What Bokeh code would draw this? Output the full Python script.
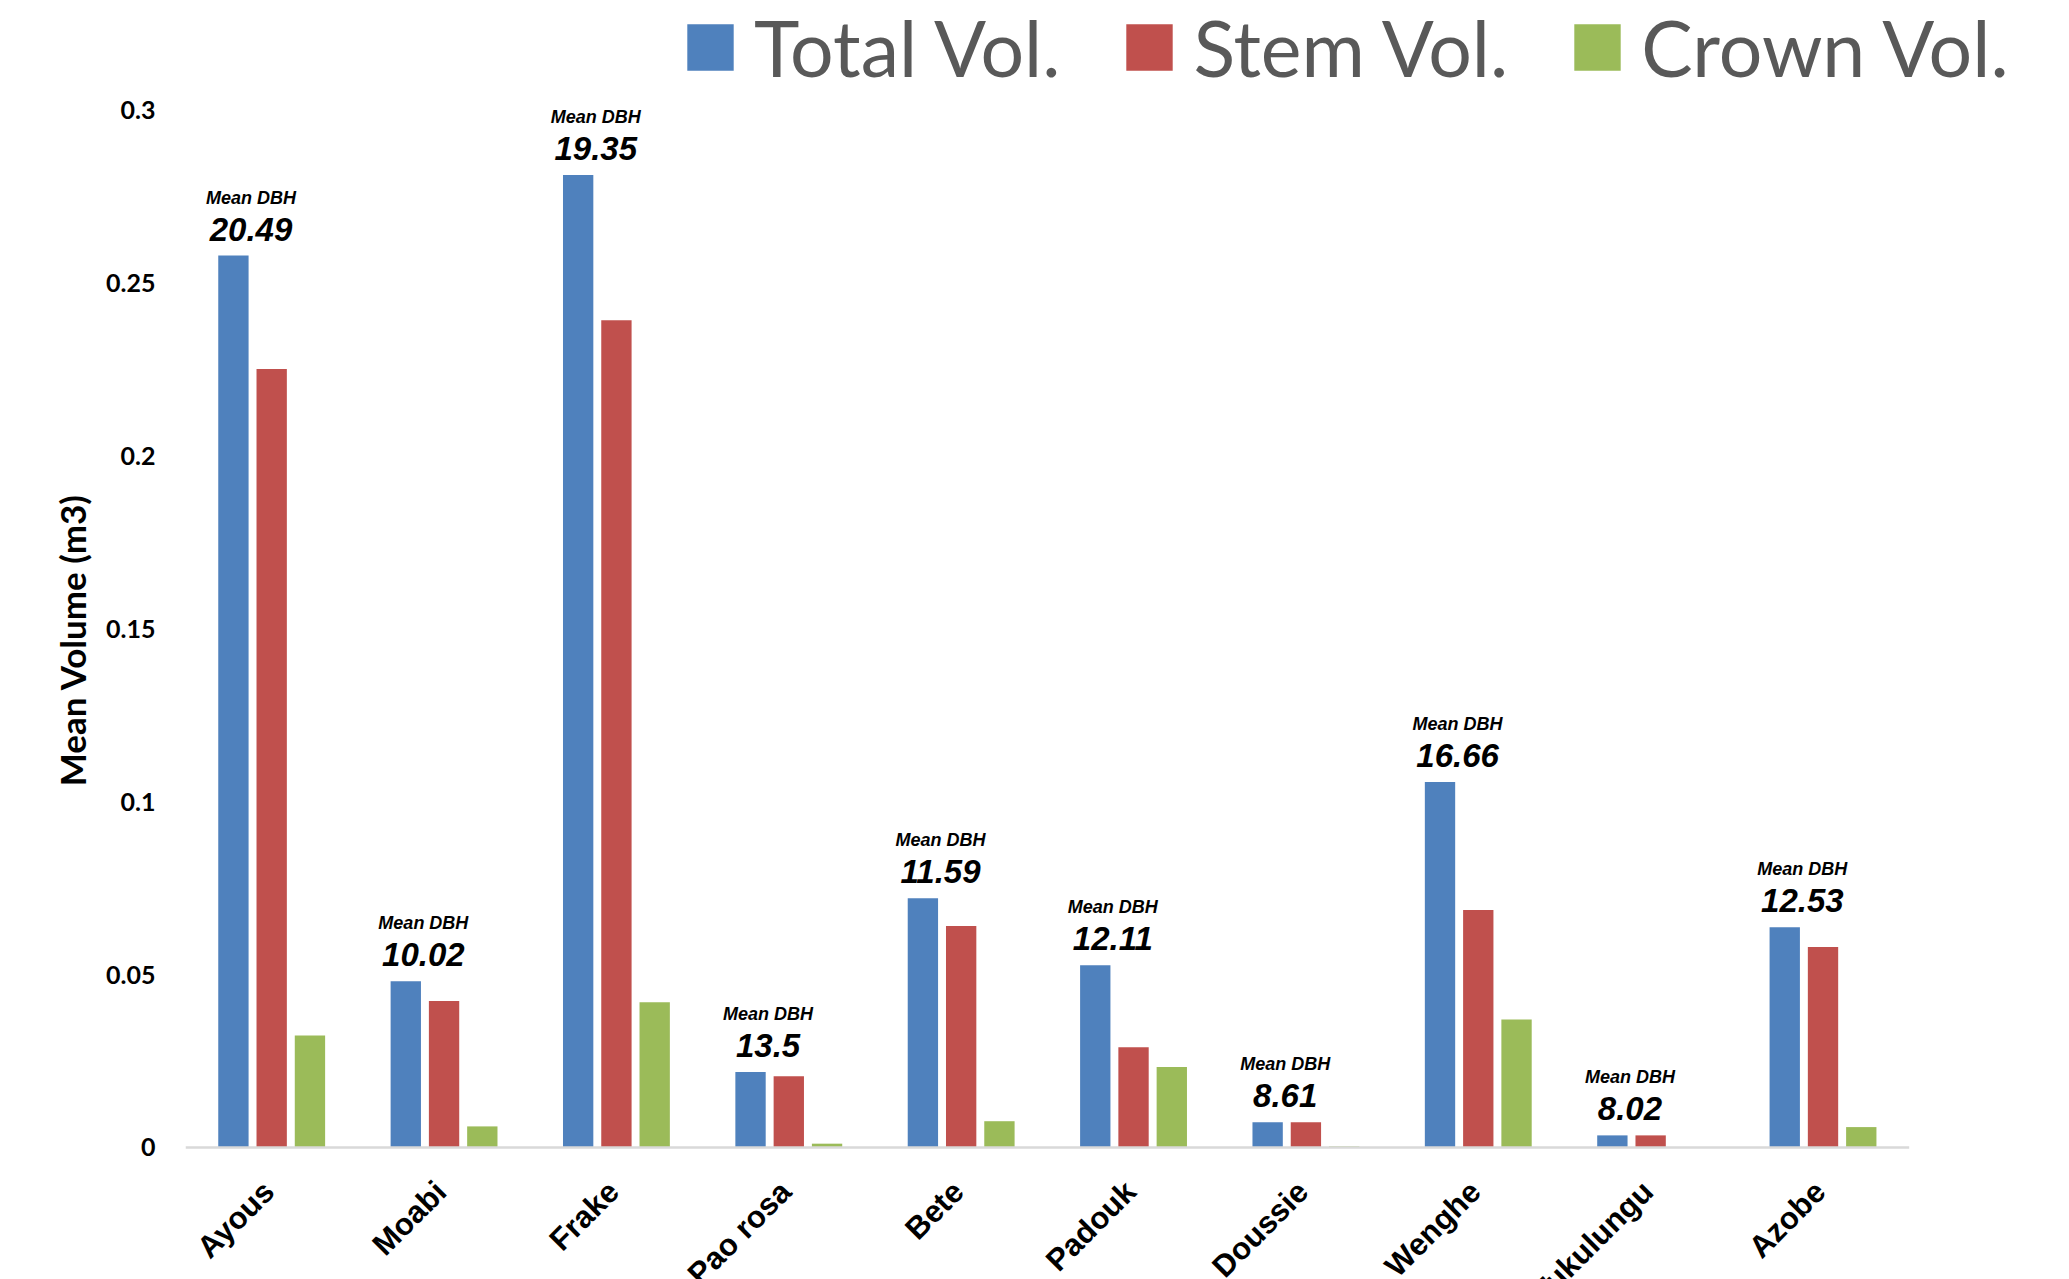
import math
from bokeh.plotting import figure
from bokeh.models import (ColumnDataSource, Range1d, LabelSet, Legend,
                          LegendItem, FixedTicker, NumeralTickFormatter)
from bokeh.core.properties import value
from bokeh.transform import dodge
from bokeh.embed import file_html
from bokeh.resources import INLINE

# ---- data ----
species = ["Ayous", "Moabi", "Frake", "Pao rosa", "Bete", "Padouk",
           "Doussie", "Wenghe", "Tukulungu", "Azobe"]
total_vol = [0.2580, 0.0481, 0.2813, 0.0218, 0.0721, 0.0527, 0.0073, 0.1057, 0.0035, 0.0637]
stem_vol = [0.2252, 0.0424, 0.2393, 0.0206, 0.0641, 0.0290, 0.0073, 0.0687, 0.0035, 0.0580]
crown_vol = [0.0324, 0.0061, 0.0420, 0.0011, 0.0076, 0.0233, 0.0003, 0.0370, 0.0, 0.0059]
mean_dbh = ["20.49", "10.02", "19.35", "13.5", "11.59", "12.11", "8.61", "16.66", "8.02", "12.53"]
series_names = ["Total Vol.", "Stem Vol.", "Crown Vol."]
y_ticks = [0, 0.05, 0.1, 0.15, 0.2, 0.25, 0.3]
y_title = "Mean Volume (m3)"
dbh_caption = "Mean DBH"

colors = ["#4F81BD", "#C0504D", "#9BBB59"]
n = len(species)
idx = list(range(n))

src = ColumnDataSource(dict(
    idx=idx, species=species, total=total_vol, stem=stem_vol, crown=crown_vol,
    dbh=mean_dbh, caption=[dbh_caption] * n, zero=[0.0] * n,
))

# the plotting area reaches the canvas edges at the top, right and bottom so the
# legend and the rotated category names (cut by the bottom edge) are not clipped
y_max = max(y_ticks)
p = figure(x_range=Range1d(-0.5, n - 0.5 + 0.93),
           y_range=Range1d(-0.1273 * y_max, 1.106 * y_max),
           width=2069, height=1279, output_backend="svg", toolbar_location=None,
           min_border=0, min_border_left=185)

p.outline_line_color = None
p.xgrid.visible = False
p.ygrid.visible = False
p.xaxis.visible = False

offsets = [-0.222, 0.0, 0.222]
fields = ["total", "stem", "crown"]
renderers = []
for f, off, c in zip(fields, offsets, colors):
    r = p.vbar(x=dodge("idx", off), top=f, width=0.176,
               source=src, fill_color=c, line_color=None)
    renderers.append(r)

# category baseline
p.segment(x0=[-0.5], x1=[n - 0.5], y0=[0], y1=[0], line_color="#D9D9D9", line_width=2.5)

# category names, rotated 45 degrees
xl = LabelSet(x="idx", y="zero", text="species", source=src,
              angle=math.pi / 4, text_align="right", text_baseline="middle",
              x_offset=-3, y_offset=-39,
              text_font=value("Arial"), text_font_style="bold",
              text_font_size="31px", text_color="black")
p.add_layout(xl)

# y axis
p.yaxis.ticker = FixedTicker(ticks=y_ticks)
p.yaxis.formatter = NumeralTickFormatter(format="0.[00]")
p.yaxis.axis_line_color = None
p.yaxis.major_tick_line_color = None
p.yaxis.minor_tick_line_color = None
p.yaxis.major_label_standoff = 24
p.yaxis.major_label_text_font = "Lato"
p.yaxis.major_label_text_font_style = "bold"
p.yaxis.major_label_text_font_size = "25px"
p.yaxis.major_label_text_color = "black"
p.yaxis.axis_label = y_title
p.yaxis.axis_label_text_font = "Lato"
p.yaxis.axis_label_text_font_style = "bold"
p.yaxis.axis_label_text_font_size = "35px"
p.yaxis.axis_label_text_color = "black"
p.yaxis.axis_label_standoff = 10

# Mean DBH annotations above each group
dbh_x = dodge("idx", -0.12)
vl = LabelSet(x=dbh_x, y="total", text="dbh", source=src,
              text_align="center", text_baseline="alphabetic", y_offset=15,
              text_font=value("Arial"), text_font_style="bold italic",
              text_font_size="33px", text_color="black")
cl = LabelSet(x=dbh_x, y="total", text="caption", source=src,
              text_align="center", text_baseline="alphabetic", y_offset=52,
              text_font=value("Arial"), text_font_style="bold italic",
              text_font_size="18px", text_color="black")
p.add_layout(vl)
p.add_layout(cl)

legend = Legend(items=[LegendItem(label=nm, renderers=[r]) for nm, r in zip(series_names, renderers)],
                orientation="horizontal", location=(496, 1186),
                glyph_width=58, glyph_height=58, label_standoff=15, spacing=60,
                padding=0, margin=0, border_line_color=None, background_fill_alpha=0,
                label_text_font="Lato", label_text_font_size="77px",
                label_text_color="#595959")
p.add_layout(legend)

open("out.html", "w").write(file_html(p, INLINE))
